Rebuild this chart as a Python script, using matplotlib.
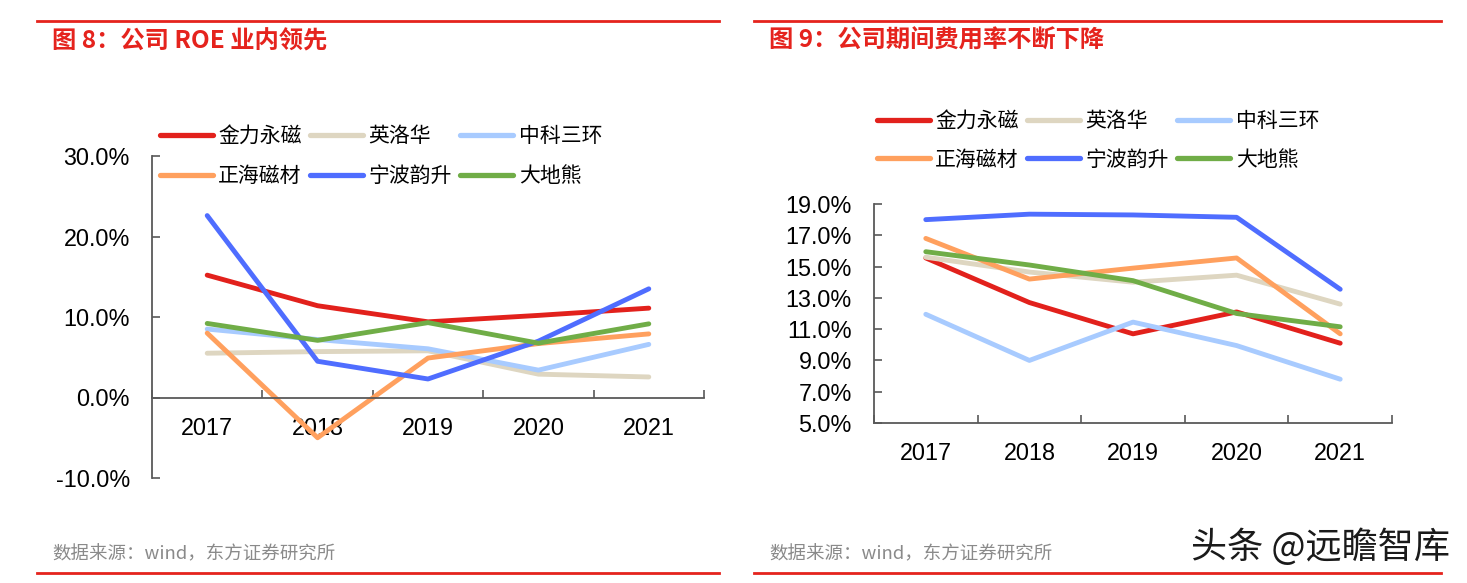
import matplotlib
matplotlib.use("Agg")
import matplotlib.pyplot as plt
from matplotlib.lines import Line2D

plt.rcParams['font.family'] = ['Liberation Sans', 'Noto Sans CJK SC', 'DejaVu Sans']

W, H = 1467, 583

years = ["2017", "2018", "2019", "2020", "2021"]
companies = ["金力永磁", "英洛华", "中科三环", "正海磁材", "宁波韵升", "大地熊"]
colors = ["#E2211C", "#DED6C1", "#A8CBFF", "#FFA05E", "#4F6DFF", "#70AD47"]

# 图8 ROE (%)
roe_jlym = [15.2, 11.4, 9.4, 10.2, 11.1]
roe_ylh = [5.5, 5.7, 5.8, 2.9, 2.55]
roe_zksh = [8.5, 7.2, 6.05, 3.4, 6.6]
roe_zhcc = [8.0, -5.0, 4.9, 6.7, 7.9]
roe_nbys = [22.6, 4.5, 2.3, 7.0, 13.5]
roe_ddx = [9.2, 7.1, 9.3, 6.75, 9.15]
roe = [roe_jlym, roe_ylh, roe_zksh, roe_zhcc, roe_nbys, roe_ddx]

# 图9 期间费用率 (%)
fee_jlym = [15.55, 12.7, 10.7, 12.1, 10.1]
fee_ylh = [15.6, 14.65, 14.0, 14.45, 12.6]
fee_zksh = [11.95, 9.0, 11.45, 9.95, 7.8]
fee_zhcc = [16.8, 14.2, 14.9, 15.55, 10.7]
fee_nbys = [18.0, 18.35, 18.3, 18.15, 13.55]
fee_ddx = [15.95, 15.1, 14.1, 12.0, 11.15]
fee = [fee_jlym, fee_ylh, fee_zksh, fee_zhcc, fee_nbys, fee_ddx]

CJK = ['Noto Sans CJK SC', 'DejaVu Sans']
RED = "#E5231D"
AXC = "#595959"


def px(x0, y0, x1, y1):
    # pixel box (top-left origin) -> figure rect
    return [x0 / W, 1 - y1 / H, (x1 - x0) / W, (y1 - y0) / H]


def style_axis(ax, ylo, yhi, step, xaxis_at):
    n = len(years)
    ax.set_xlim(-0.5, n - 0.5)
    ax.set_ylim(ylo, yhi)
    for s in ["top", "right"]:
        ax.spines[s].set_visible(False)
    for s in ["left", "bottom"]:
        ax.spines[s].set_color(AXC)
        ax.spines[s].set_linewidth(1.3)
    ax.spines["bottom"].set_position(("data", xaxis_at))
    ax.set_xticks([i - 0.5 for i in range(n + 1)])
    ax.set_xticklabels([])
    ax.set_xticks(range(n), minor=True)
    ax.set_xticklabels(years, minor=True)
    ax.tick_params(axis="x", which="major", direction="in", length=6, width=1.2, color=AXC)
    ax.tick_params(axis="x", which="minor", length=0, pad=14, labelsize=16.8)
    yt = []
    v = ylo
    while v <= yhi + 1e-9:
        yt.append(v)
        v += step
    ax.set_yticks(yt)
    ax.set_yticklabels([f"{t:.1f}%" for t in yt])
    ax.tick_params(axis="y", direction="in", length=6, width=1.2, color=AXC, pad=16, labelsize=16.8)


fig = plt.figure(figsize=(W / 100, H / 100), dpi=100)

# left chart
ax1 = fig.add_axes(px(152, 156, 704, 478))
for vals, c in zip(roe, colors):
    ax1.plot(range(len(years)), vals, color=c, lw=3.5, solid_capstyle="round")
style_axis(ax1, -10, 30, 10, 0)

# right chart
ax2 = fig.add_axes(px(874, 204, 1392, 423))
for vals, c in zip(fee, colors):
    ax2.plot(range(len(years)), vals, color=c, lw=3.5, solid_capstyle="round")
style_axis(ax2, 5, 19, 2, 5)

# legends, row-wise order
order = [0, 3, 1, 4, 2, 5]


def add_legend(x, y, spacing):
    handles = [Line2D([], [], color=colors[i], lw=3.8, solid_capstyle="round") for i in order]
    labels = [companies[i] for i in order]
    fig.legend(handles, labels, ncol=3, loc="upper left",
               bbox_to_anchor=(x / W, 1 - y / H), frameon=False,
               prop={"family": CJK, "size": 15}, handlelength=2.55,
               handletextpad=0.25, columnspacing=0.4, labelspacing=spacing,
               borderpad=0, borderaxespad=0)


add_legend(160, 125, 0.86)
add_legend(877, 110, 0.8)

# titles and rules
fig.text(52 / W, 1 - 41 / H, "图 8：公司 ROE 业内领先", color=RED, fontsize=17.5,
         fontweight="bold", family=CJK, va="center", ha="left")
fig.text(769 / W, 1 - 41 / H, "图 9：公司期间费用率不断下降", color=RED, fontsize=17.5,
         fontweight="bold", family=CJK, va="center", ha="left")
for x0, x1 in [(37, 719), (754, 1441)]:
    fig.add_artist(Line2D([x0 / W, x1 / W], [1 - 20.5 / H] * 2, color=RED, lw=2))
    fig.add_artist(Line2D([x0 / W, x1 / W], [1 - 572.5 / H] * 2, color=RED, lw=2))

fig.text(52 / W, 1 - 554 / H, "数据来源：wind，东方证券研究所", color="#8A8A8A",
         fontsize=13.3, family=CJK, va="center", ha="left")
fig.text(769 / W, 1 - 554 / H, "数据来源：wind，东方证券研究所", color="#8A8A8A",
         fontsize=13.3, family=CJK, va="center", ha="left")
fig.text(1450 / W, 1 - 547 / H, "头条 @远瞻智库", color="#1A1A1A",
         fontsize=26, family=CJK, va="center", ha="right")

fig.savefig("out.png", dpi=100)
